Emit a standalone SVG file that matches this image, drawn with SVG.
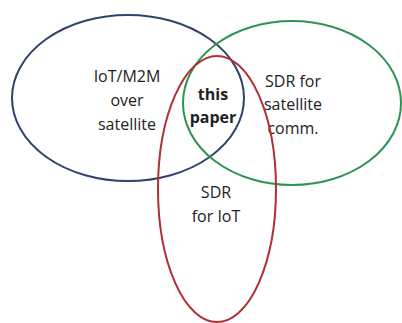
<svg xmlns="http://www.w3.org/2000/svg" width="402" height="323" viewBox="0 0 402 323">
<style>
.c{fill:none;stroke-width:2}
.t{font-family:"Open Sans","DejaVu Sans",sans-serif;font-size:16px;fill:#222;text-anchor:middle}
.b{font-weight:bold}
</style>
<rect width="402" height="323" fill="#fff"/>
<g id="iot-m2m">
<ellipse class="c" cx="128" cy="98" rx="116" ry="83" stroke="#2f4468"/>
<text class="t" x="127" y="82">IoT/M2M</text>
<text class="t" x="127" y="106">over</text>
<text class="t" x="127" y="130">satellite</text>
</g>
<g id="sdr-sat">
<ellipse class="c" cx="292" cy="103" rx="109" ry="82" stroke="#2e9357"/>
<text class="t" x="293" y="87">SDR for</text>
<text class="t" x="293" y="110">satellite</text>
<text class="t" x="293" y="134">comm.</text>
</g>
<g id="sdr-iot">
<ellipse class="c" cx="217" cy="189" rx="59" ry="133" stroke="#b03034"/>
<text class="t" x="216" y="198">SDR</text>
<text class="t" x="216" y="222">for IoT</text>
</g>
<g id="this-paper">
<text class="t b" x="213" y="100">this</text>
<text class="t b" x="213" y="123">paper</text>
</g>
</svg>
